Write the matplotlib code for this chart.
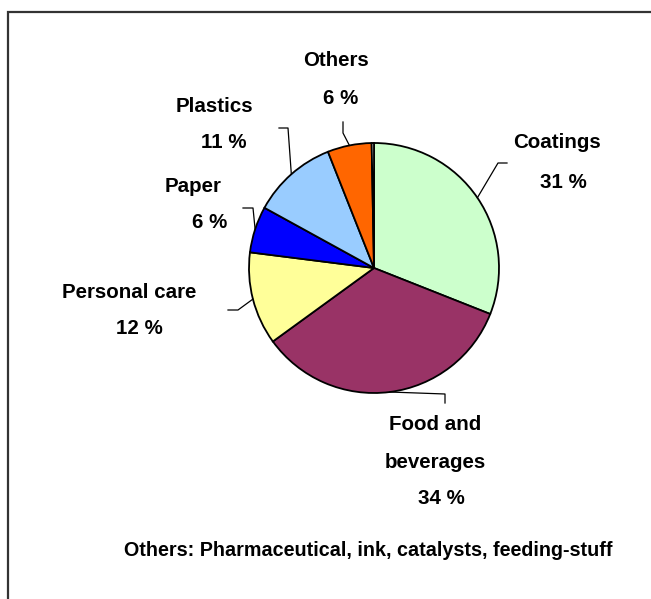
import matplotlib
matplotlib.use("Agg")
import matplotlib.pyplot as plt
import numpy as np
from matplotlib.patches import Rectangle

# ---- data ----
categories = ["Coatings", "Food and\nbeverages", "Personal care", "Paper", "Plastics", "Others", ""]
values = [31, 34, 12, 6, 11, 5.7, 0.3]
pct_labels = ["31 %", "34 %", "12 %", "6 %", "11 %", "6 %", ""]
colors = ["#CCFFCC", "#993366", "#FFFF99", "#0000FF", "#99CCFF", "#FF6600", "#FFFFFF"]
footnote = "Others: Pharmaceutical, ink, catalysts, feeding-stuff"

W, H = 651, 599
fig = plt.figure(figsize=(W / 100, H / 100), dpi=100)
ax = fig.add_axes([0, 0, 1, 1])
ax.set_xlim(0, W)
ax.set_ylim(0, H)
ax.axis("off")

def py(y):  # pixel row -> data y
    return H - y

cx, cy, R = 374, py(268), 125
wedges, _ = ax.pie(values, colors=colors, startangle=90, counterclock=False,
                   center=(cx, cy), radius=R,
                   wedgeprops=dict(edgecolor="black", linewidth=1.3))
ax.set_xlim(0, W)
ax.set_ylim(0, H)
ax.set_aspect("equal")

FONT = "Liberation Sans"
fs = 14.8
line_gap = 37

# label layout (pixel coordinates): name pos, pct pos, leader elbow, leader end
layout = [
    dict(name=(557, 140), pct=(563, 180), elbow=(498, 163), end=(507, 163)),
    dict(name=(435, 423), pct=(441, 497), elbow=(445, 394), end=(445, 403)),
    dict(name=(129, 290), pct=(139, 326), elbow=(238, 310), end=(228, 310)),
    dict(name=(193, 185), pct=(210, 221), elbow=(253, 208), end=(243, 208)),
    dict(name=(214, 105), pct=(224, 141), elbow=(288, 128), end=(279, 128)),
    dict(name=(336, 59), pct=(341, 96), elbow=(343, 133), end=(343, 122)),
]

for i, lay in enumerate(layout):
    w = wedges[i]
    mid = np.deg2rad((w.theta1 + w.theta2) / 2)
    sx, sy = cx + R * np.cos(mid), cy + R * np.sin(mid)
    ex, ey = lay["elbow"]
    tx, ty = lay["end"]
    ax.plot([sx, ex, tx], [sy, py(ey), py(ty)], color="black", lw=0.9, zorder=3)
    nx, ny = lay["name"]
    for k, line in enumerate(categories[i].split("\n")):
        ax.text(nx, py(ny + k * line_gap), line, ha="center", va="center_baseline",
                fontsize=fs, fontweight="bold", family=FONT)
    qx, qy = lay["pct"]
    ax.text(qx, py(qy), pct_labels[i], ha="center", va="center_baseline", fontsize=fs,
            fontweight="bold", family=FONT)

ax.text(368, py(549), footnote, ha="center", va="center_baseline", fontsize=14.2,
        fontweight="bold", family=FONT)

# outer frame (extends beyond right/bottom edges)
ax.add_patch(Rectangle((8, -10), W + 20, py(12) + 10, fill=False,
                       edgecolor="#333333", lw=1.6, clip_on=False))

fig.savefig("out.png", dpi=100)
